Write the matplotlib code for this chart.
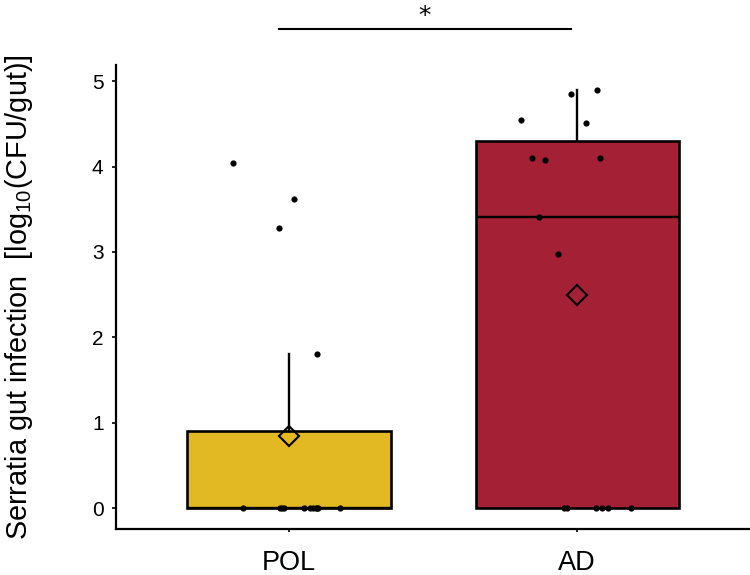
import matplotlib
matplotlib.use("Agg")
import matplotlib.pyplot as plt

plt.rcParams['font.family'] = ['Liberation Sans', 'DejaVu Sans']
plt.rcParams['mathtext.fontset'] = 'custom'
plt.rcParams['mathtext.rm'] = 'Liberation Sans'

groups = ["POL", "AD"]
colors = ["#E2B823", "#A32035"]

# log10 CFU per gut (zeros sit on the baseline)
pol_values = [4.04, 3.62, 3.28, 1.80, 0, 0, 0, 0, 0, 0, 0, 0, 0, 0, 0]
pol_jitter = [-0.195, 0.017, -0.035, 0.097, -0.161, -0.030, -0.018, 0.051,
              0.073, 0.093, 0.100, 0.178, -0.025, 0.083, 0.097]
ad_values = [4.55, 4.85, 4.90, 4.51, 4.10, 4.08, 4.10, 3.41, 2.98, 0, 0, 0, 0, 0, 0]
ad_jitter = [-0.195, -0.020, 0.068, 0.031, -0.155, -0.111, 0.079, -0.131,
             -0.068, -0.044, -0.035, 0.065, 0.086, 0.107, 0.186]

sig_label = "*"

fig = plt.figure(figsize=(7.5, 5.75), dpi=100)
ax = fig.add_axes([0.1547, 0.08, 0.8453, 0.807])

bp = ax.boxplot([pol_values, ad_values], positions=[0, 1], widths=0.705,
                patch_artist=True, showmeans=True, showfliers=False,
                showcaps=False, whis=1.5,
                boxprops=dict(linewidth=1.9, edgecolor="black"),
                whiskerprops=dict(linewidth=1.7, color="black"),
                medianprops=dict(linewidth=1.7, color="black"),
                meanprops=dict(marker="D", markersize=10, markerfacecolor="none",
                               markeredgecolor="black", markeredgewidth=1.5))
for patch, c in zip(bp["boxes"], colors):
    patch.set_facecolor(c)

for i, (vals, jit) in enumerate([(pol_values, pol_jitter), (ad_values, ad_jitter)]):
    ax.scatter([i + j for j in jit], vals, s=20, color="black", zorder=4, linewidths=0)

ax.set_xlim(-0.6, 1.6)
ax.set_ylim(-0.246, 5.19)
ax.set_xticks([0, 1])
ax.set_xticklabels(groups, fontsize=19.5)
ax.set_yticks([0, 1, 2, 3, 4, 5])
ax.tick_params(axis="y", labelsize=15, length=3, width=1.2, pad=6)
ax.tick_params(axis="x", length=2, width=1.2, pad=13)

for s in ["top", "right"]:
    ax.spines[s].set_visible(False)
for s in ["left", "bottom"]:
    ax.spines[s].set_linewidth(1.6)

ax.set_ylabel(r"Serratia gut infection  [log$_{10}$(CFU/gut)]", fontsize=20.8)
ax.yaxis.set_label_coords(-0.128, 0.5)

# significance bar
ax.plot([-0.035, 0.98], [5.61, 5.61], color="black", lw=1.5, clip_on=False)
ax.text(0.47, 5.68, sig_label, ha="center", va="baseline", fontsize=18,
        family="DejaVu Sans")

fig.savefig("out.png", dpi=100)
